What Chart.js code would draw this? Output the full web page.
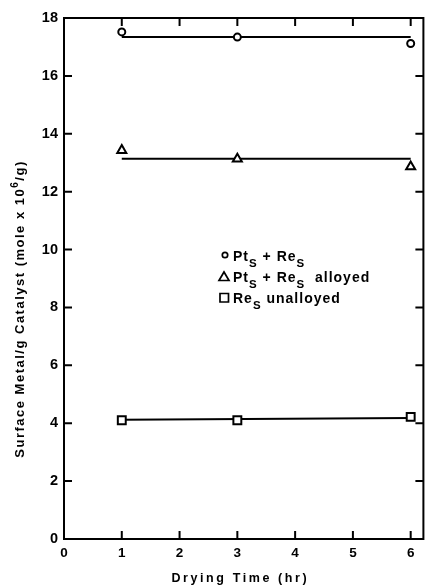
<!DOCTYPE html>
<html>
<head>
<meta charset="utf-8">
<script src="https://cdn.jsdelivr.net/npm/chart.js@4"></script>
<style>
html,body{margin:0;padding:0;background:#fff;}
#wrap{width:431px;height:586px;position:relative;}
</style>
</head>
<body>
<div id="wrap"><canvas id="c" width="431" height="586"></canvas></div>
<script>
// ---- data ----
const xValues = [1, 3, 6];
const ptReValues = [17.52, 17.34, 17.12];
const alloyedValues = [13.43, 13.13, 12.86];
const unalloyedValues = [4.1, 4.1, 4.22];
const fitX = [1, 6];
const ptReFit = [17.34, 17.34];
const alloyedFit = [13.14, 13.14];
const unalloyedFit = [4.12, 4.18];
const xTicks = [0, 1, 2, 3, 4, 5, 6];
const yTicks = [0, 2, 4, 6, 8, 10, 12, 14, 16, 18];
const xTitle = 'Drying Time (hr)';
const yTitleParts = [['Surface Metal/g Catalyst (mole x 10', 0], ['6', 1], ['/g)', 0]];
const legendItems = [
  {style: 'circle', parts: [['Pt', 0], ['S', -1], [' + Re', 0], ['S', -1]]},
  {style: 'triangle', parts: [['Pt', 0], ['S', -1], [' + Re', 0], ['S', -1], ['  alloyed', 0]]},
  {style: 'rect', parts: [['Re', 0], ['S', -1], [' unalloyed', 0]]}
];

const FONT = '"Liberation Sans", Arial, sans-serif';
const toPts = (xs, ys) => xs.map((x, i) => ({x: x, y: ys[i]}));

function markerDs(label, ys, style, r) {
  return {label: label, data: toPts(xValues, ys), showLine: false, pointStyle: style,
    pointRadius: r, pointHoverRadius: r, pointBackgroundColor: '#fff', pointBorderColor: '#000',
    pointBorderWidth: 2, borderColor: '#000', backgroundColor: '#fff', order: 0};
}
function fitDs(label, ys) {
  return {label: label, data: toPts(fitX, ys), showLine: true, pointRadius: 0, borderColor: '#000',
    borderWidth: 2, fill: false, order: 1};
}

const framePlugin = {
  id: 'frame',
  afterDraw(chart) {
    const ctx = chart.ctx, a = chart.chartArea;
    const xs = chart.scales.x, ys = chart.scales.y;
    ctx.save();
    ctx.strokeStyle = '#000';
    ctx.lineWidth = 2;
    ctx.strokeRect(a.left, a.top, a.right - a.left, a.bottom - a.top);
    const L = 8;
    ctx.beginPath();
    xTicks.forEach(v => {
      if (v === xTicks[0]) return;
      const px = xs.getPixelForValue(v);
      ctx.moveTo(px, a.bottom); ctx.lineTo(px, a.bottom - L);
      ctx.moveTo(px, a.top); ctx.lineTo(px, a.top + L);
    });
    yTicks.forEach(v => {
      if (v === yTicks[0] || v === yTicks[yTicks.length - 1]) return;
      const py = ys.getPixelForValue(v);
      ctx.moveTo(a.left, py); ctx.lineTo(a.left + L, py);
      ctx.moveTo(a.right, py); ctx.lineTo(a.right - L, py);
    });
    ctx.stroke();

    // titles
    ctx.fillStyle = '#000';
    ctx.textBaseline = 'alphabetic';
    // x title
    ctx.font = 'bold 12.5px ' + FONT;
    ctx.letterSpacing = '2.6px';
    const xw = ctx.measureText(xTitle).width;
    const xc = xs.getPixelForValue(3) + 3;
    ctx.textAlign = 'left';
    ctx.fillText(xTitle, xc - xw / 2, 582);

    // y title rotated with superscript
    ctx.letterSpacing = '1.5px';
    const bigF = 'bold 13px ' + FONT, smallF = 'bold 10px ' + FONT;
    let total = 0;
    yTitleParts.forEach(p => { ctx.font = p[1] ? smallF : bigF; total += ctx.measureText(p[0]).width; });
    ctx.translate(24, 309);
    ctx.rotate(-Math.PI / 2);
    let cx = -total / 2;
    yTitleParts.forEach(p => {
      ctx.font = p[1] ? smallF : bigF;
      ctx.fillText(p[0], cx, p[1] ? -6 : 0);
      cx += ctx.measureText(p[0]).width;
    });
    ctx.restore();

    // legend
    ctx.save();
    ctx.fillStyle = '#000';
    ctx.strokeStyle = '#000';
    ctx.lineWidth = 1.7;
    ctx.letterSpacing = '1px';
    const rows = [256, 277, 298];
    legendItems.forEach((it, i) => {
      const y = rows[i];
      const mx = 224;
      ctx.beginPath();
      if (it.style === 'circle') {
        ctx.arc(mx + 1, y - 1, 2.7, 0, Math.PI * 2);
      } else if (it.style === 'triangle') {
        ctx.moveTo(mx - 5, y + 3.5); ctx.lineTo(mx + 5, y + 3.5); ctx.lineTo(mx, y - 5); ctx.closePath();
      } else {
        ctx.rect(mx - 4, y - 4.5, 8.5, 8.5);
      }
      ctx.stroke();
      let tx = 233;
      it.parts.forEach(p => {
        ctx.font = (p[1] ? 'bold 11.5px ' : 'bold 14px ') + FONT;
        ctx.fillText(p[0], tx, y + 4.5 + (p[1] ? 6 : 0));
        tx += ctx.measureText(p[0]).width;
      });
    });
    ctx.restore();
  }
};

new Chart(document.getElementById('c'), {
  type: 'scatter',
  data: {
    datasets: [
      markerDs('Pt_S + Re_S', ptReValues, 'circle', 3.5),
      markerDs('Pt_S + Re_S alloyed', alloyedValues, 'triangle', 5.2),
      markerDs('Re_S unalloyed', unalloyedValues, 'rect', 5.6),
      fitDs('fit 1', ptReFit),
      fitDs('fit 2', alloyedFit),
      fitDs('fit 3', unalloyedFit)
    ]
  },
  options: {
    responsive: false,
    animation: false,
    events: [],
    layout: {padding: {left: 0, right: 2, top: 18, bottom: 0}},
    plugins: {legend: {display: false}, tooltip: {enabled: false}, title: {display: false}},
    scales: {
      x: {
        type: 'linear', min: 0, max: 6.22,
        afterBuildTicks: s => { s.ticks = xTicks.map(v => ({value: v})); },
        afterFit: s => { s.height = 47; },
        grid: {display: false, drawTicks: false},
        border: {display: false},
        ticks: {color: '#000', padding: 6, font: {family: FONT, size: 13.5, weight: 'bold'}, maxRotation: 0}
      },
      y: {
        type: 'linear', min: 0, max: 18,
        afterBuildTicks: s => { s.ticks = yTicks.map(v => ({value: v})); },
        afterFit: s => { s.width = 64; },
        grid: {display: false, drawTicks: false},
        border: {display: false},
        ticks: {color: '#000', padding: 6, font: {family: FONT, size: 14.5, weight: 'bold'}}
      }
    }
  },
  plugins: [framePlugin]
});
</script>
</body>
</html>
